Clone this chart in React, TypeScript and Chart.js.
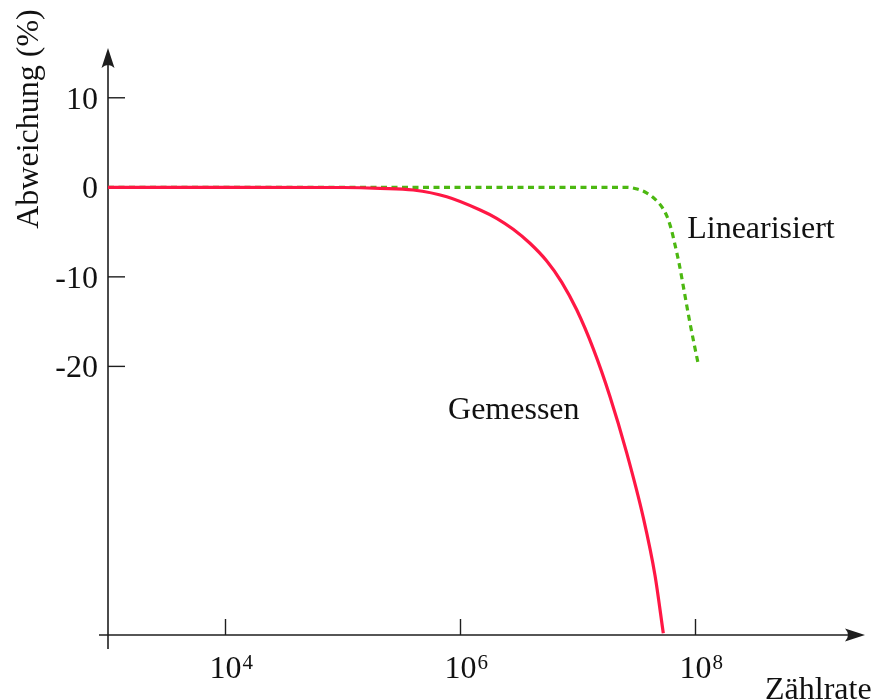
import React, { useEffect, useRef } from "react";
import { Chart, registerables } from "chart.js";

Chart.register(...registerables);

// Gemessen (measured) curve: count rate vs deviation (%)
const measuredRate = [1e3, 1e4, 1e5, 2.07e5, 3.96e5, 7.64e5, 1.47e6, 2.03e6, 2.81e6, 3.9e6, 5.42e6, 7.26e6, 9.75e6, 1.35e7, 1.87e7, 2.59e7, 3.6e7, 4.52e7, 5.32e7];
const measuredDev = [0, 0, -0.02, -0.11, -0.3, -1.05, -2.53, -3.46, -4.69, -6.25, -8.23, -10.58, -13.68, -18.04, -23.35, -29.6, -36.92, -43.33, -49.81];

// Linearisiert (linearised) curve
const linRate = [1e3, 1e5, 1e6, 1e7, 2.61e7, 3.18e7, 3.86e7, 4.52e7, 5.19e7, 5.71e7, 6.18e7, 6.7e7, 7.24e7, 7.98e7, 8.81e7, 9.7e7, 1.05e8];
const linDev = [0, 0, 0, 0, 0, -0.19, -0.64, -1.31, -2.21, -3.22, -4.55, -6.45, -8.46, -11.48, -14.6, -17.4, -19.6];

const xTickValues = [1e4, 1e6, 1e8];
const xTickBase = "10";
const xTickExponents = ["4", "6", "8"];
const yTickValues = [10, 0, -10, -20];
const yTickLabels = ["10", "0", "-10", "-20"];

const seriesLabels = ["Gemessen", "Linearisiert"];
const seriesLabelX = [7.83e5, 8.5e7];
const seriesLabelY = [-25.9, -5.66];

const xTitle = "Zählrate";
const yTitle = "Abweichung (%)";

const X_MIN = 1e3;
const X_MAX = Math.pow(10, 9.417);
const Y_MIN = -50;
const Y_MAX = 15.56;

const FONT = "'Liberation Serif', 'Times New Roman', serif";
const AXIS = "#1e1e1e";

const axesPlugin = {
  id: "sketchAxes",
  beforeDatasetsDraw(chart: any) {
    const ctx = chart.ctx as CanvasRenderingContext2D;
    const xs = chart.scales.x;
    const ys = chart.scales.y;
    const x0 = xs.getPixelForValue(X_MIN);
    const y0 = ys.getPixelForValue(Y_MIN);
    const xEnd = chart.chartArea.right;
    const yEnd = chart.chartArea.top;
    ctx.save();
    ctx.strokeStyle = AXIS;
    ctx.fillStyle = AXIS;
    ctx.lineWidth = 1.6;
    // x axis
    ctx.beginPath();
    ctx.moveTo(x0 - 9, y0);
    ctx.lineTo(xEnd - 6, y0);
    ctx.stroke();
    // y axis
    ctx.beginPath();
    ctx.moveTo(x0, y0 + 14);
    ctx.lineTo(x0, yEnd + 6);
    ctx.stroke();
    // arrowheads
    const tipX = xEnd + 3;
    ctx.beginPath();
    ctx.moveTo(tipX, y0);
    ctx.lineTo(tipX - 20, y0 - 6.5);
    ctx.quadraticCurveTo(tipX - 14, y0, tipX - 20, y0 + 6.5);
    ctx.closePath();
    ctx.fill();
    const tipY = yEnd;
    ctx.beginPath();
    ctx.moveTo(x0, tipY);
    ctx.lineTo(x0 - 6.5, tipY + 20);
    ctx.quadraticCurveTo(x0, tipY + 14, x0 + 6.5, tipY + 20);
    ctx.closePath();
    ctx.fill();
    // ticks
    ctx.lineWidth = 1.4;
    yTickValues.forEach((v) => {
      const py = ys.getPixelForValue(v);
      ctx.beginPath();
      ctx.moveTo(x0, py);
      ctx.lineTo(x0 + 17, py);
      ctx.stroke();
    });
    xTickValues.forEach((v) => {
      const px = xs.getPixelForValue(v);
      ctx.beginPath();
      ctx.moveTo(px, y0);
      ctx.lineTo(px, y0 - 16);
      ctx.stroke();
    });
    // tick labels
    ctx.fillStyle = "#111";
    ctx.font = `32px ${FONT}`;
    ctx.textAlign = "right";
    ctx.textBaseline = "alphabetic";
    yTickValues.forEach((v, i) => {
      const py = ys.getPixelForValue(v);
      ctx.fillText(yTickLabels[i], x0 - 10, py + 10.8);
    });
    xTickValues.forEach((v, i) => {
      const px = xs.getPixelForValue(v);
      ctx.font = `32px ${FONT}`;
      ctx.textAlign = "center";
      ctx.fillText(xTickBase, px, y0 + 43);
      const w = ctx.measureText(xTickBase).width;
      ctx.font = `21px ${FONT}`;
      ctx.textAlign = "left";
      ctx.fillText(xTickExponents[i], px + w / 2 + 1, y0 + 34);
    });
    // axis titles
    ctx.font = `32px ${FONT}`;
    ctx.textAlign = "left";
    ctx.fillText(xTitle, 765, 699);
    ctx.save();
    ctx.translate(38, 119);
    ctx.rotate(-Math.PI / 2);
    ctx.textAlign = "center";
    ctx.fillText(yTitle, 0, 0);
    ctx.restore();
    // series labels
    ctx.textAlign = "left";
    seriesLabels.forEach((t, i) => {
      ctx.fillText(t, xs.getPixelForValue(seriesLabelX[i]), ys.getPixelForValue(seriesLabelY[i]));
    });
    ctx.restore();
  },
};

export default function App() {
  const ref = useRef<HTMLCanvasElement | null>(null);
  useEffect(() => {
    document.body.style.margin = "0";
    const canvas = ref.current;
    if (!canvas) return;
    const chart = new Chart(canvas, {
      type: "line",
      data: {
        datasets: [
          {
            label: seriesLabels[0],
            data: measuredRate.map((x, i) => ({ x, y: measuredDev[i] })),
            borderColor: "#ff1744",
            borderWidth: 3.2,
            pointRadius: 0,
            cubicInterpolationMode: "monotone",
            fill: false,
            order: 0,
          },
          {
            label: seriesLabels[1],
            data: linRate.map((x, i) => ({ x, y: linDev[i] })),
            borderColor: "#4cb811",
            borderWidth: 3.2,
            borderDash: [6, 4.5],
            borderCapStyle: "butt",
            pointRadius: 0,
            cubicInterpolationMode: "monotone",
            fill: false,
            order: 1,
          },
        ],
      },
      options: {
        animation: false,
        responsive: true,
        maintainAspectRatio: false,
        layout: { padding: { left: 108, right: 14, top: 48, bottom: 65 } },
        plugins: { legend: { display: false }, tooltip: { enabled: false } },
        scales: {
          x: { type: "logarithmic", min: X_MIN, max: X_MAX, display: false },
          y: { type: "linear", min: Y_MIN, max: Y_MAX, display: false },
        },
      },
      plugins: [axesPlugin],
    } as any);
    return () => chart.destroy();
  }, []);
  return (
    <div style={{ position: "relative", width: 876, height: 700, background: "#fff" }}>
      <canvas ref={ref} />
    </div>
  );
}
